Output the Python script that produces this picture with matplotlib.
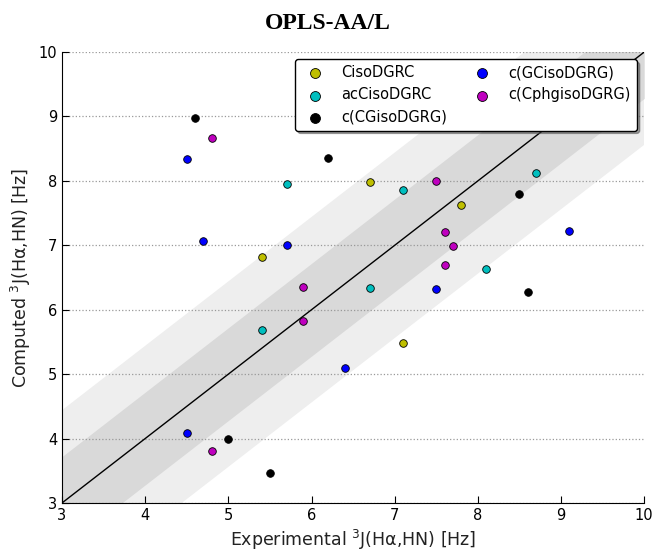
import numpy as np
import matplotlib
matplotlib.use("Agg")
import matplotlib.pyplot as plt

# valores (experimental vs calculado)
ciso_exp = [5.4, 6.7, 7.8, 7.1]
ciso_calc = [6.82, 7.98, 7.62, 5.48]

accis_exp = [5.7, 7.1, 8.7, 8.1, 5.4, 6.7]
accis_calc = [7.95, 7.86, 8.12, 6.63, 5.68, 6.33]

cg_exp = [4.6, 6.2, 8.5, 8.6, 5.0, 5.5]
cg_calc = [8.97, 8.35, 7.79, 6.28, 4.0, 3.47]

gc_exp = [4.5, 4.7, 5.7, 7.5, 6.4, 9.1, 4.5]
gc_calc = [8.34, 7.07, 7.0, 6.32, 5.1, 7.22, 4.08]

cph_exp = [4.8, 7.5, 7.6, 7.7, 7.6, 5.9, 5.9, 4.8]
cph_calc = [8.66, 8.0, 7.21, 6.99, 6.69, 6.36, 5.83, 3.81]

# largura das faixas de erro (Hz)
band_inner = 0.72
band_outer = 1.44

fig = plt.figure(figsize=(6.56, 5.57), dpi=100)
ax = fig.add_axes([0.0945, 0.097, 0.8875, 0.8095])

xx = np.array([3.0, 10.0])
ax.fill_between(xx, xx - band_outer, xx + band_outer, color='#eeeeee', lw=0, zorder=0)
ax.fill_between(xx, xx - band_inner, xx + band_inner, color='#d9d9d9', lw=0, zorder=0)
ax.plot(xx, xx, 'k-', lw=1.0, zorder=1)

kw = dict(s=30, edgecolors='black', linewidths=0.6, zorder=3)
ax.scatter(ciso_exp, ciso_calc, c='#bfbf00', label='CisoDGRC', **kw)
ax.scatter(accis_exp, accis_calc, c='#00bfbf', label='acCisoDGRC', **kw)
ax.scatter(cg_exp, cg_calc, c='black', label='c(CGisoDGRG)', **kw)
ax.scatter(gc_exp, gc_calc, c='#0000ff', label='c(GCisoDGRG)', **kw)
ax.scatter(cph_exp, cph_calc, c='#bf00bf', label='c(CphgisoDGRG)', **kw)

ax.set_xlim(3, 10)
ax.set_ylim(3, 10)
ax.yaxis.grid(True, linestyle=':', color='#999999', lw=0.9)
ax.set_axisbelow(True)
for s in ['top', 'right']:
    ax.spines[s].set_visible(False)
ax.tick_params(direction='in', labelsize=10.5, top=False, right=False, length=5)

ax.set_xlabel('Experimental $^3$J(Hα,HN) [Hz]', fontsize=12.5, color='#222222')
ax.set_ylabel('Computed $^3$J(Hα,HN) [Hz]', fontsize=12.5, color='#222222')
fig.suptitle('OPLS-AA/L', fontsize=17, fontweight='bold', family='Liberation Serif', y=0.977)

leg = ax.legend(loc='upper right', ncol=2, fancybox=True, shadow=True,
                scatterpoints=1, markerscale=1.3, fontsize=10.5,
                columnspacing=1.4, framealpha=1, edgecolor='black')
leg.set_zorder(5)

fig.savefig('out.png', dpi=100)
